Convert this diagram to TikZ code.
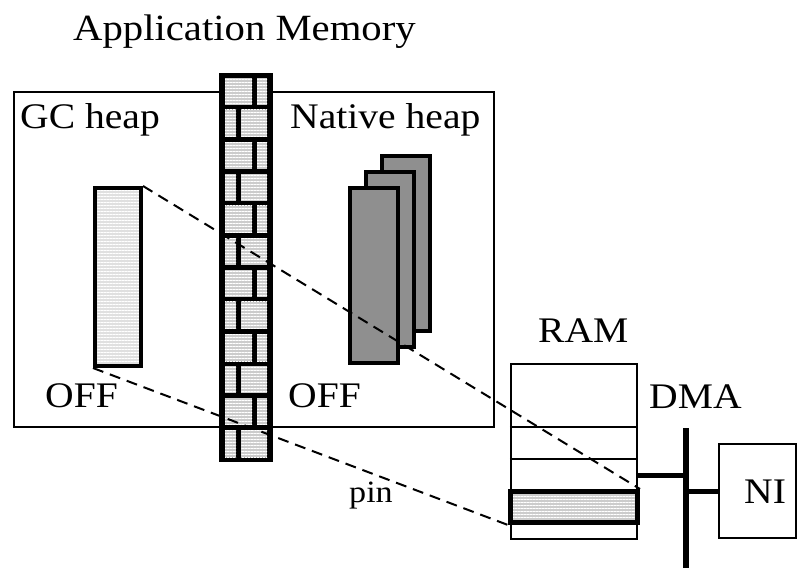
\documentclass[tikz,border=0pt]{standalone}
\usepackage{fontspec}
\setmainfont[FakeStretch=1.1]{Liberation Serif}
\usetikzlibrary{patterns.meta}
\definecolor{brickgray}{gray}{0.8}
\definecolor{objgray}{gray}{0.88}
\definecolor{heapgray}{gray}{0.56}
\begin{document}
\begin{tikzpicture}[x=1pt, y=-1pt,
    lbl/.style={font=\fontsize{36}{40}\selectfont, inner sep=0pt, anchor=base west},
    box/.style={draw, line width=2.5pt, inner sep=0pt},
    striped/.style={preaction={fill=#1}, pattern={Lines[angle=0, distance=3pt, line width=1pt]}, pattern color=white},
    heapobj/.style={draw, line width=3.5pt, fill=heapgray, inner sep=0pt, minimum width=48pt, minimum height=175pt},
    ptr/.style={dashed, line width=2pt, dash pattern=on 11pt off 7pt}]
  \useasboundingbox (0,0) rectangle (806,569);
  %tikz  Application memory, GC heap vs native heap
  \node[lbl, font=\fontsize{37}{42}\selectfont] (title) at (73,41) {Application Memory};
  \node[box, minimum width=480pt, minimum height=335pt] (app) at (254,259.5) {};
  \node[lbl] (gclbl) at (20,129) {GC heap};
  \node[lbl] (nativelbl) at (290,129) {Native heap};
  \node[lbl] (offgc) at (45,407) {OFF};
  \node[lbl] (offnative) at (288,407) {OFF};

  % the wall
  \fill[black] (219,73) rectangle (273,462);
  \foreach \r in {0,...,11}{
    \pgfmathsetmacro\yt{78+32*\r}
    \pgfmathsetmacro\d{ifthenelse(mod(\r,2)==0,252,236)}
    \path[striped=brickgray] (225,\yt) rectangle (\d,\yt+27);
    \path[striped=brickgray] (\d+5,\yt) rectangle (267,\yt+27);
  }

  \node[draw, line width=4pt, inner sep=0pt, minimum width=46pt, minimum height=178pt, striped=objgray] (gcobj) at (118,277) {};
  \node[heapobj] (heapc) at (406,243.5) {};
  \node[heapobj] (heapb) at (390,259.5) {};
  \node[heapobj] (heapa) at (374,275.5) {};

  % RAM and network
  \node[lbl] (ramlbl) at (538,343) {RAM};
  \node[box, minimum width=126pt, minimum height=175pt] (ram) at (574,451.5) {};
  \draw[line width=2.5pt] (ram.west |- 0,427) -- (ram.east |- 0,427);
  \draw[line width=2.5pt] (ram.west |- 0,459) -- (ram.east |- 0,459);
  \node[draw, line width=5pt, inner sep=0pt, minimum width=127pt, minimum height=31pt, striped=brickgray] (pinned) at (574,507) {};
  \node[lbl] (dmalbl) at (649,408) {DMA};
  \coordinate (bustop) at (686,428);
  \coordinate (busbot) at (686,568);
  \draw[line width=6pt] (bustop) -- (busbot);
  \node[box, minimum width=77pt, minimum height=94pt] (ni) at (757.5,491) {};
  \node[lbl] (nilbl) at (744,503) {NI};
  \draw[line width=5pt] (ram.east |- 0,475) -- (bustop |- 0,475);
  \draw[line width=5pt] (bustop |- ni.west) -- (ni.west);

  \draw[ptr] (gcobj.north east) -- (pinned.north east);
  \draw[ptr] (gcobj.south west) -- (pinned.south west);
  \node[lbl, font=\fontsize{31}{34}\selectfont] (pinlbl) at (349,502) {pin};
\end{tikzpicture}
\end{document}
